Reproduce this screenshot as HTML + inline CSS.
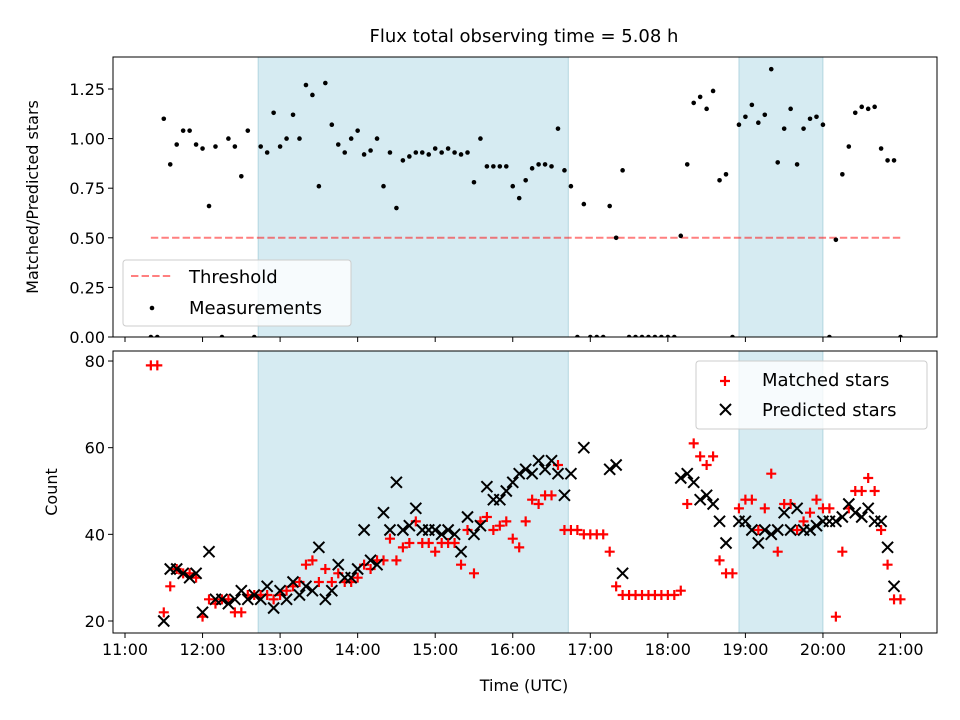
<!DOCTYPE html>
<html><head><meta charset="utf-8"><style>
html,body{margin:0;padding:0;background:#fff;}
svg{display:block;font-family:"DejaVu Sans","Liberation Sans",sans-serif;}
</style></head><body>
<svg id="chart" width="960" height="720" viewBox="0 0 960 720" xmlns="http://www.w3.org/2000/svg">
<rect width="960" height="720" fill="#fff"/>
<text x="524" y="42" font-size="18" text-anchor="middle" fill="#000">Flux total observing time = 5.08 h</text>
<g id="top"></g>
<g id="bot"></g>
</svg>
<script>
// sample times: start 11:20, 5-minute cadence (hours)
const startHour = 11 + 20/60;
const stepHour = 5/60;
const ratioValues = [0,0,1.10,0.87,0.97,1.04,1.04,0.97,0.95,0.66,0.96,0,1.0,0.96,0.81,1.04,0,0.96,0.93,1.13,0.96,1.0,1.12,1.0,1.27,1.22,0.76,1.28,1.07,0.97,0.93,1.0,1.04,0.92,0.94,1.0,0.76,0.93,0.65,0.89,0.91,0.93,0.93,0.92,0.95,0.93,0.95,0.93,0.92,0.93,0.78,1.0,0.86,0.86,0.86,0.86,0.76,0.70,0.79,0.85,0.87,0.87,0.86,1.05,0.84,0.76,0,0.67,0,0,0,0.66,0.50,0.84,0,0,0,0,0,0,0,0,0.51,0.87,1.18,1.21,1.15,1.24,0.79,0.82,0,1.07,1.11,1.17,1.08,1.12,1.35,0.88,1.05,1.15,0.87,1.05,1.10,1.11,1.07,0,0.49,0.82,0.96,1.13,1.16,1.15,1.16,0.95,0.89,0.89,0];
const matchedValues = [79,79,22,28,32,31,31,30,21,25,24,25,25,22,22,26,26,26,26,25,26,27,28,29,33,34,29,32,29,31,29,29,30,33,32,34,34,39,34,37,38,43,38,38,36,38,38,38,33,41,31,43,44,41,42,43,39,37,43,48,47,49,49,56,41,41,41,40,40,40,40,36,28,26,26,26,26,26,26,26,26,26,27,47,61,58,56,58,34,31,31,46,48,48,41,46,54,36,47,47,41,43,45,48,46,46,21,36,46,50,50,53,50,41,33,25,25];
const predictedValues = [null,null,20,32,32,31,30,31,22,36,25,25,24,25,27,25,26,25,28,23,27,25,29,26,28,27,37,25,27,33,30,30,32,41,34,33,45,41,52,41,42,46,41,41,41,40,41,40,36,44,40,42,51,48,48,50,52,54,55,54,57,55,57,54,49,54,null,60,null,null,null,55,56,31,null,null,null,null,null,null,null,null,53,54,52,48,49,47,43,38,null,43,43,41,38,41,40,41,45,41,46,41,41,42,43,43,43,44,47,45,44,46,43,43,37,28,null];
const thresholdValue = 0.5;
const xTickLabels = ["11:00","12:00","13:00","14:00","15:00","16:00","17:00","18:00","19:00","20:00","21:00"];
const topYTicks = [0,0.25,0.5,0.75,1.0,1.25];
const botYTicks = [20,40,60,80];
const shadeSpans = [[12+43/60,16+43/60],[18+55/60,20.0]];

const NS="http://www.w3.org/2000/svg";
function mk(parent,tag,attrs){const e=document.createElementNS(NS,tag);for(const k in attrs)e.setAttribute(k,attrs[k]);parent.appendChild(e);return e;}
const L=113,R=937;
const xS=t=>125+(t-11)*77.55;
const topT=57,topB=337, yTop=v=>337-v*198.4;
const botT=351,botB=633, yBot=v=>621-(v-20)*4.333;
const times=ratioValues.map((_,i)=>startHour+i*stepHour);

function panel(g,top,bottom,yF,ticks,fmt,showXLabels,name){
  const clipId='clip-'+name;
  const cp=mk(g,'clipPath',{id:clipId});mk(cp,'rect',{x:L,y:top,width:R-L,height:bottom-top});
  shadeSpans.forEach(s=>{const r=mk(g,'rect',{x:xS(s[0]),y:top,width:xS(s[1])-xS(s[0]),height:bottom-top,fill:'#add8e6','fill-opacity':0.5,stroke:'#7fb9c9','stroke-opacity':0.5});
    
    });
  ticks.forEach(v=>{const y=yF(v);mk(g,'line',{x1:L-5,x2:L,y1:y,y2:y,stroke:'#000','stroke-width':1});
    const t=mk(g,'text',{x:L-8,y:y+6,'font-size':16,'text-anchor':'end'});t.textContent=fmt(v);
    
    });
  xTickLabels.forEach((lab,i)=>{const x=xS(11+i);mk(g,'line',{x1:x,x2:x,y1:bottom,y2:bottom+5,stroke:'#000','stroke-width':1});
    if(showXLabels){const t=mk(g,'text',{x:x,y:bottom+22,'font-size':16,'text-anchor':'middle'});t.textContent=lab;
      
      }});
  return clipId;
}
// top panel
const gt=document.getElementById('top');
const c1=panel(gt,topT,topB,yTop,topYTicks,v=>v.toFixed(2),false,'top');
const th=mk(gt,'line',{x1:xS(times[0]),x2:xS(times[times.length-1]),y1:yTop(thresholdValue),y2:yTop(thresholdValue),stroke:'#ff0000','stroke-opacity':0.5,'stroke-width':2,'stroke-dasharray':'7.4,3.2'});


const gm=mk(gt,'g',{'clip-path':'url(#'+c1+')'});
ratioValues.forEach((v,i)=>{const c=mk(gm,'circle',{cx:xS(times[i]),cy:yTop(v),r:2.3,fill:'#000'});
  
  });
mk(gt,'rect',{x:L,y:topT,width:R-L,height:topB-topT,fill:'none',stroke:'#000','stroke-width':1});
// top legend
const lg1=mk(gt,'g',{});


mk(lg1,'rect',{x:123,y:260,width:228,height:66,rx:3,fill:'#fff','fill-opacity':0.8,stroke:'#ccc'});
mk(lg1,'line',{x1:131,x2:173,y1:276,y2:276,stroke:'#ff0000','stroke-opacity':0.5,'stroke-width':2,'stroke-dasharray':'7.4,3.2'});
let t=mk(lg1,'text',{x:189,y:283,'font-size':18});t.textContent='Threshold';
mk(lg1,'circle',{cx:152,cy:308,r:2.3,fill:'#000'});
t=mk(lg1,'text',{x:189,y:314,'font-size':18});t.textContent='Measurements';
t=mk(gt,'text',{x:0,y:0,'font-size':16,'text-anchor':'middle',transform:'translate(38,197) rotate(-90)'});t.textContent='Matched/Predicted stars';



// bottom panel
const gb=document.getElementById('bot');
const c2=panel(gb,botT,botB,yBot,botYTicks,v=>String(v),true,'bot');
const gp=mk(gb,'g',{'clip-path':'url(#'+c2+')'});
matchedValues.forEach((v,i)=>{if(v==null)return;const x=xS(times[i]),y=yBot(v);
  const p=mk(gp,'path',{d:`M${x-5},${y}H${x+5}M${x},${y-5}V${y+5}`,stroke:'#ff0000','stroke-width':2.2});
  
  });
predictedValues.forEach((v,i)=>{if(v==null)return;const x=xS(times[i]),y=yBot(v);
  const p=mk(gp,'path',{d:`M${x-5.5},${y-5.5}L${x+5.5},${y+5.5}M${x-5.5},${y+5.5}L${x+5.5},${y-5.5}`,stroke:'#000','stroke-width':2});
  
  });
mk(gb,'rect',{x:L,y:botT,width:R-L,height:botB-botT,fill:'none',stroke:'#000','stroke-width':1});
const lg2=mk(gb,'g',{});


mk(lg2,'rect',{x:696,y:361,width:231,height:68,rx:3,fill:'#fff','fill-opacity':0.8,stroke:'#ccc'});
mk(lg2,'path',{d:'M720,381H730M725,376V386',stroke:'#ff0000','stroke-width':2.2});
t=mk(lg2,'text',{x:762,y:386,'font-size':18});t.textContent='Matched stars';
mk(lg2,'path',{d:'M720,404L731,415M720,415L731,404',stroke:'#000','stroke-width':2});
t=mk(lg2,'text',{x:762,y:416,'font-size':18});t.textContent='Predicted stars';
t=mk(gb,'text',{x:0,y:0,'font-size':16,'text-anchor':'middle',transform:'translate(57,492) rotate(-90)'});t.textContent='Count';


t=mk(gb,'text',{x:524,y:691,'font-size':16,'text-anchor':'middle'});t.textContent='Time (UTC)';


</script>
</body></html>
